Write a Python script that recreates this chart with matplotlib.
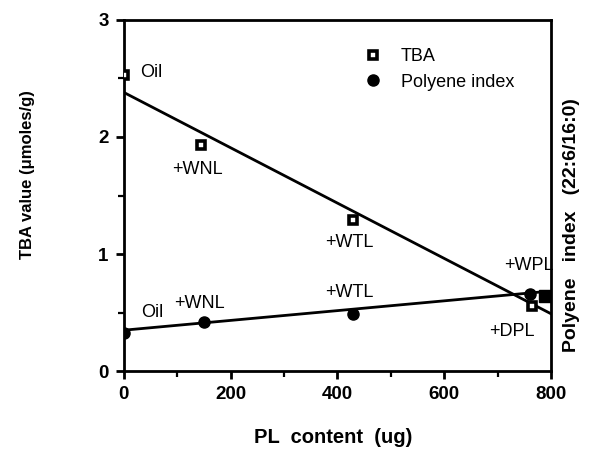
import matplotlib.pyplot as plt
from matplotlib.ticker import MultipleLocator

plt.rcParams['font.family'] = ['Liberation Sans', 'DejaVu Sans']

# TBA values (umoles/g)
tba_x = [0, 144, 429, 764]
tba_y = [2.53, 1.93, 1.29, 0.56]
tba_extra_x = [789]
tba_extra_y = [0.64]
tba_labels = ['Oil', '+WNL', '+WTL', '+DPL']
tba_lab_x = [30, 138, 423, 727]
tba_lab_y = [2.55, 1.72, 1.10, 0.34]
tba_fit_x = [0, 800]
tba_fit_y = [2.38, 0.49]

# polyene index
poly_x = [0, 150, 429, 761]
poly_y = [0.33, 0.42, 0.49, 0.66]
poly_labels = ['Oil', '+WNL', '+WTL', '+WPL']
poly_lab_x = [32, 142, 423, 759]
poly_lab_y = [0.50, 0.58, 0.67, 0.90]
poly_fit_x = [0, 790]
poly_fit_y = [0.35, 0.68]

fig = plt.figure(figsize=(5.9, 4.51), dpi=100)
ax = fig.add_axes([0.210, 0.177, 0.724, 0.779])

ax.plot(tba_fit_x, tba_fit_y, color='black', lw=2.0, zorder=2)
ax.plot(poly_fit_x, poly_fit_y, color='black', lw=2.0, zorder=2)

ax.plot(tba_x, tba_y, ls='none', marker='s', ms=6, mfc='white', mec='black',
        mew=2.6, zorder=3, label='TBA')
ax.plot(tba_extra_x, tba_extra_y, ls='none', marker='s', ms=8, color='black', zorder=3)
ax.plot(poly_x, poly_y, ls='none', marker='o', ms=8, color='black', zorder=3,
        label='Polyene index')

for t, x, y in zip(tba_labels, tba_lab_x, tba_lab_y):
    ax.text(x, y, t, fontsize=13, ha='center' if t != 'Oil' else 'left', va='center')
for t, x, y in zip(poly_labels, poly_lab_x, poly_lab_y):
    ax.text(x, y, t, fontsize=13, ha='center' if t != 'Oil' else 'left', va='center')

ax.set_xlim(0, 800)
ax.set_ylim(0, 3)
ax.xaxis.set_major_locator(MultipleLocator(200))
ax.xaxis.set_minor_locator(MultipleLocator(100))
ax.yaxis.set_major_locator(MultipleLocator(1))
ax.yaxis.set_minor_locator(MultipleLocator(0.5))
ax.tick_params(which='major', direction='out', length=6, width=2.0, labelsize=13.5, pad=5)
ax.tick_params(which='minor', direction='out', length=4, width=1.6)
ax.tick_params(top=False, right=False, which='both')
for lab in ax.get_xticklabels() + ax.get_yticklabels():
    lab.set_fontweight('bold')
for s in ax.spines.values():
    s.set_linewidth(2.0)

ax.legend(loc='upper left', bbox_to_anchor=(0.525, 0.965), frameon=False, fontsize=13,
          handletextpad=1.0, labelspacing=0.45, handlelength=1.0)

fig.text(0.565, 0.03, 'PL  content  (ug)', ha='center', va='center',
         fontsize=14.5, fontweight='bold')
fig.text(0.047, 0.612, 'TBA value (\u03bcmoles/g)', ha='center', va='center',
         rotation=90, fontsize=12, fontweight='bold')
fig.text(0.968, 0.50, 'Polyene   index   (22:6/16:0)', ha='center', va='center',
         rotation=90, fontsize=14, fontweight='bold')

fig.savefig('out.png', dpi=100)
